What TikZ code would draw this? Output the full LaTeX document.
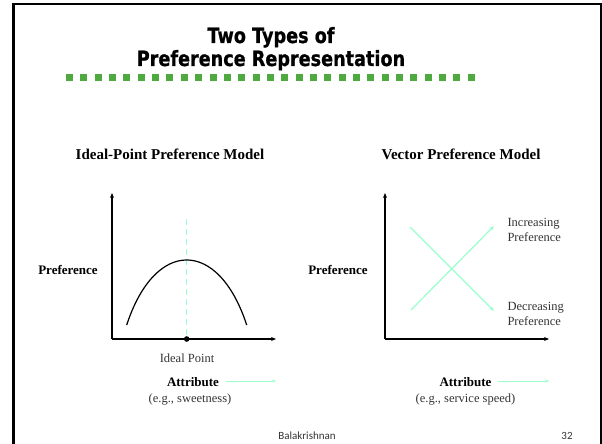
\documentclass[tikz,border=0pt]{standalone}
\usepackage{fontspec}
\setmainfont{Liberation Serif}
\newfontfamily\titlefont[FakeStretch=0.84,FakeBold=0.8]{DejaVu Sans}
\newfontfamily\footfont{Carlito}
\usetikzlibrary{arrows.meta}
\definecolor{aqua}{HTML}{99FFCC}
\definecolor{dotgreen}{HTML}{4EAA3E}
\begin{document}
\begin{tikzpicture}[x=1pt,y=-1pt,
  axis/.style={line width=1.2pt,-{Stealth[length=5pt,width=4pt]}},
  aquaarrow/.style={aqua,line width=1.2pt,-{Stealth[length=5pt,width=4pt]}},
  smallarrow/.style={aqua,line width=1pt,-{Stealth[length=4pt,width=3pt]}},
  heading/.style={font=\fontsize{15}{17}\selectfont\bfseries},
  lab/.style={font=\fontsize{13}{15}\selectfont\bfseries},
  plain/.style={font=\fontsize{12.5}{15}\selectfont, text=black!80},
  titletext/.style={font=\titlefont\fontsize{21}{24}\selectfont\bfseries, anchor=base},
  foot/.style={font=\footfont\fontsize{11}{13}\selectfont, text=black!80, anchor=base},
  ]
\useasboundingbox (0,0) rectangle (602,444);
% frame
\draw[line width=3pt] (13.5,444) -- (13.5,4);
\draw[line width=2pt] (12,4) -- (600.5,4) -- (600.5,444);
% title
\node[titletext] (t1) at (271,43) {Two Types of};
\node[titletext] (t2) at (271,66) {Preference Representation};
\foreach \i in {0,...,28} {
  \fill[dotgreen] (66+\i*14.35,73.5) rectangle ++(7,7);
}
% headings
\node[heading, anchor=base] (h1) at (170,159) {Ideal-Point Preference Model};
\node[heading, anchor=base] (h2) at (461,159) {Vector Preference Model};
% left graph
\coordinate (o1) at (112,339);
\coordinate (y1) at (112,193);
\coordinate (x1) at (276,339);
\draw[axis] (o1) -- (y1);
\draw[axis] (o1) -- (x1);
\coordinate (dtop) at (186.7,219);
\coordinate (ip) at (186.7,339);
\draw[aqua, line width=1pt, dash pattern=on 6pt off 4pt] (dtop) -- (ip);
\draw[line width=1.2pt] (126.7,325) .. controls (155,238.3) and (218.4,238.3) .. (246.7,325);
\fill (ip) circle (2.8pt);
\node[lab] (p1) at (68,270) {Preference};
\node[plain, anchor=base] (ipl) at (187,362) {Ideal Point};
\node[lab, anchor=base] (a1) at (193,386) {Attribute};
\coordinate (a1s) at (226,381);
\coordinate (a1e) at (276,381);
\draw[smallarrow] (a1s) -- (a1e);
\node[plain, anchor=base] (e1) at (190,402) {(e.g., sweetness)};
% right graph
\coordinate (o2) at (385,339);
\coordinate (y2) at (385,193);
\coordinate (x2) at (549,339);
\draw[axis] (o2) -- (y2);
\draw[axis] (o2) -- (x2);
\coordinate (is) at (411,310);
\coordinate (ie) at (494,226);
\coordinate (ds) at (410,227);
\coordinate (de) at (494,311);
\draw[aquaarrow] (is) -- (ie);
\draw[aquaarrow] (ds) -- (de);
\node[lab] (p2) at (338,270) {Preference};
\node[plain, anchor=base west] (inc) at (504,226) {Increasing};
\node[plain, anchor=base west] (inc2) at (504,241) {Preference};
\node[plain, anchor=base west] (dec) at (504,310) {Decreasing};
\node[plain, anchor=base west] (dec2) at (504,325) {Preference};
\node[lab, anchor=base] (a2) at (465.5,386) {Attribute};
\coordinate (a2s) at (498,381);
\coordinate (a2e) at (549,381);
\draw[smallarrow] (a2s) -- (a2e);
\node[plain, anchor=base] (e2) at (465.5,402) {(e.g., service speed)};
% footer
\node[foot] (f1) at (307,439) {Balakrishnan};
\node[foot] (f2) at (567,439) {32};
\end{tikzpicture}
\end{document}
